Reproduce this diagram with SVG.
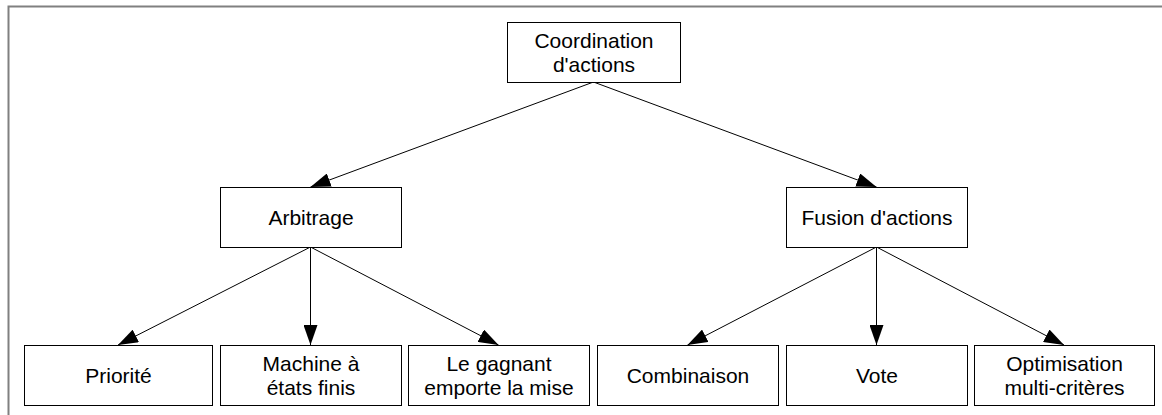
<svg xmlns="http://www.w3.org/2000/svg" width="1162" height="415" viewBox="0 0 1162 415">
<defs>
<style>
.box{fill:#fff;stroke:#000;stroke-width:1}
.t{font-family:"Liberation Sans",Arial,sans-serif;font-size:21px;fill:#000;text-anchor:middle}
.c{stroke:#000;stroke-width:1;fill:none;marker-end:url(#ah)}
</style>
<marker id="ah" markerUnits="userSpaceOnUse" markerWidth="20" markerHeight="14" refX="20" refY="7" orient="auto">
<path d="M0,0 L20,7 L0,14 z" fill="#000"/>
</marker>
</defs>
<rect x="0" y="0" width="1162" height="415" fill="#fff"/>
<rect x="8.5" y="6.5" width="1170" height="420" fill="none" stroke="#808080" stroke-width="2"/>
<g id="connectors">
<line class="c" x1="593.5" y1="82" x2="310.5" y2="187"/>
<line class="c" x1="593.5" y1="82" x2="876.5" y2="187"/>
<line class="c" x1="310.5" y1="247" x2="118" y2="345"/>
<line class="c" x1="310.5" y1="247" x2="310.5" y2="345"/>
<line class="c" x1="310.5" y1="247" x2="498.5" y2="345"/>
<line class="c" x1="876.5" y1="247" x2="687.5" y2="345"/>
<line class="c" x1="876.5" y1="247" x2="876.5" y2="345"/>
<line class="c" x1="876.5" y1="247" x2="1064" y2="345"/>
</g>
<g id="coordination">
<rect class="box" x="507.5" y="22.5" width="173" height="60"/>
<text class="t" x="594" y="48">Coordination</text>
<text class="t" x="594" y="72">d'actions</text>
</g>
<g id="arbitrage">
<rect class="box" x="220.5" y="187.5" width="181" height="60"/>
<text class="t" x="311" y="225">Arbitrage</text>
</g>
<g id="fusion">
<rect class="box" x="786.5" y="187.5" width="181" height="60"/>
<text class="t" x="877" y="225">Fusion d'actions</text>
</g>
<g id="priorite">
<rect class="box" x="24.5" y="345.5" width="188" height="60"/>
<text class="t" x="118.5" y="383">Priorité</text>
</g>
<g id="machine">
<rect class="box" x="220.5" y="345.5" width="181" height="60"/>
<text class="t" x="311" y="371">Machine à</text>
<text class="t" x="311" y="395">états finis</text>
</g>
<g id="gagnant">
<rect class="box" x="408.5" y="345.5" width="181" height="60"/>
<text class="t" x="499" y="371">Le gagnant</text>
<text class="t" x="499" y="395">emporte la mise</text>
</g>
<g id="combinaison">
<rect class="box" x="597.5" y="345.5" width="181" height="60"/>
<text class="t" x="688" y="383">Combinaison</text>
</g>
<g id="vote">
<rect class="box" x="786.5" y="345.5" width="181" height="60"/>
<text class="t" x="877" y="383">Vote</text>
</g>
<g id="optimisation">
<rect class="box" x="974.5" y="345.5" width="180" height="60"/>
<text class="t" x="1064.5" y="371">Optimisation</text>
<text class="t" x="1064.5" y="395">multi-critères</text>
</g>
</svg>
